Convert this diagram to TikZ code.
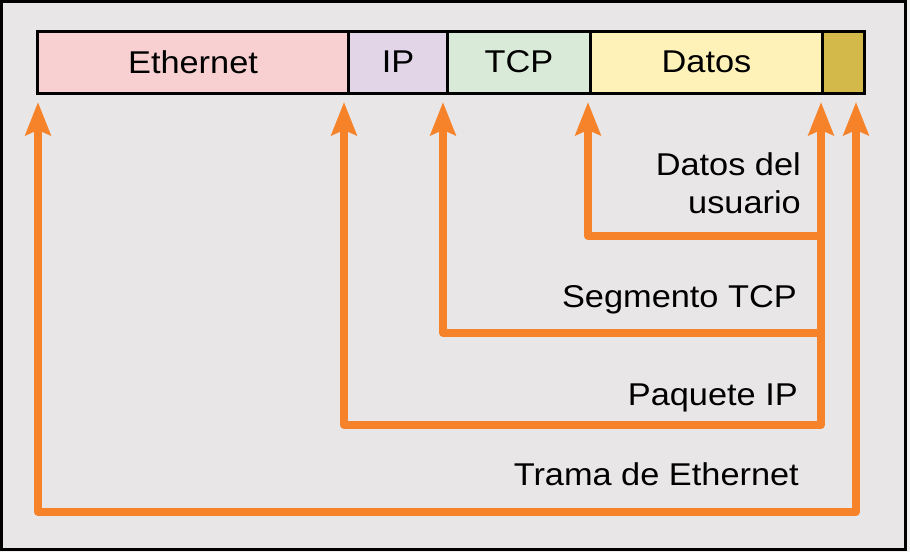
\documentclass[tikz,border=0pt]{standalone}
\usepackage{fontspec}
\newfontfamily\labfont[FakeStretch=1.09]{Liberation Sans}
\usetikzlibrary{arrows.meta}
\definecolor{panel}{HTML}{E8E6E7}
\definecolor{outside}{HTML}{F0F0F0}
\definecolor{flow}{HTML}{F6832A}
\definecolor{ethpink}{HTML}{F8D0D1}
\definecolor{iplav}{HTML}{E1D5E7}
\definecolor{tcpgreen}{HTML}{DAEAD9}
\definecolor{datayellow}{HTML}{FFF2B8}
\definecolor{trailer}{HTML}{D3B84A}
\tikzset{
  txt/.style={font=\labfont\fontsize{31.5}{38}\selectfont, text=black, inner sep=0pt},
  cell/.style={draw=black, line width=3pt, anchor=north west, minimum height=62pt,
               inner sep=0pt, txt},
  flowline/.style={draw=flow, line width=7.5pt, line join=round,
                   -{Stealth[length=33pt,width=25pt,inset=5pt]}},
  biflow/.style={flowline, {Stealth[length=33pt,width=25pt,inset=5pt]}-{Stealth[length=33pt,width=25pt,inset=5pt]}},
  tag/.style={txt, anchor=base east, align=right}
}
\begin{document}
\begin{tikzpicture}[x=1pt,y=-1pt]
  % canvas and framed panel
  \fill[outside] (0,0) rectangle (910,552);
  \draw[line width=3pt, fill=panel] (1.5,1.5) rectangle (905,549);
  \useasboundingbox (0,0) rectangle (910,552);

  % frame layout bar
  \node[cell, fill=ethpink,    minimum width=311pt] (eth) at (36,29.5)  {Ethernet};
  \node[cell, fill=iplav,      minimum width=99pt]  (ip)  at (347,29.5) {IP};
  \node[cell, fill=tcpgreen,   minimum width=143pt] (tcp) at (446,29.5) {TCP};
  \node[cell, fill=datayellow, minimum width=232pt] (dat) at (589,29.5) {Datos};
  \node[cell, fill=trailer,    minimum width=42pt]  (fcs) at (821,29.5) {};

  % arrow tips and corners
  \coordinate (tEth) at (38,102);
  \coordinate (tIP)  at (344,102);
  \coordinate (tTCP) at (443,102);
  \coordinate (tDat) at (588,102);
  \coordinate (tEnd) at (821,102);
  \coordinate (tFcs) at (856,102);
  \coordinate (cDat) at (588,236);
  \coordinate (cTCP) at (443,333);
  \coordinate (cIP)  at (344,425);
  \coordinate (cEth) at (38,512);
  \coordinate (rDat) at (821,236);
  \coordinate (rTCP) at (821,333);
  \coordinate (rIP)  at (821,425);
  \coordinate (rEth) at (856,512);

  % encapsulation spans
  \draw[biflow] (tEth) -- (cEth) -- (rEth) -- (tFcs);
  \draw[biflow] (tIP) -- (cIP) -- (rIP) -- (tEnd);
  \draw[flowline] (rTCP) -- (cTCP) -- (tTCP);
  \draw[flowline] (rDat) -- (cDat) -- (tDat);

  % span labels (base anchor of a two-line node sits on its last line)
  \node[tag] (lDat) at (801,213) {Datos del\\usuario};
  \node[tag] (lTCP) at (797,307) {Segmento TCP};
  \node[tag] (lIP)  at (798,405) {Paquete IP};
  \node[tag] (lEth) at (799,485) {Trama de Ethernet};
\end{tikzpicture}
\end{document}
